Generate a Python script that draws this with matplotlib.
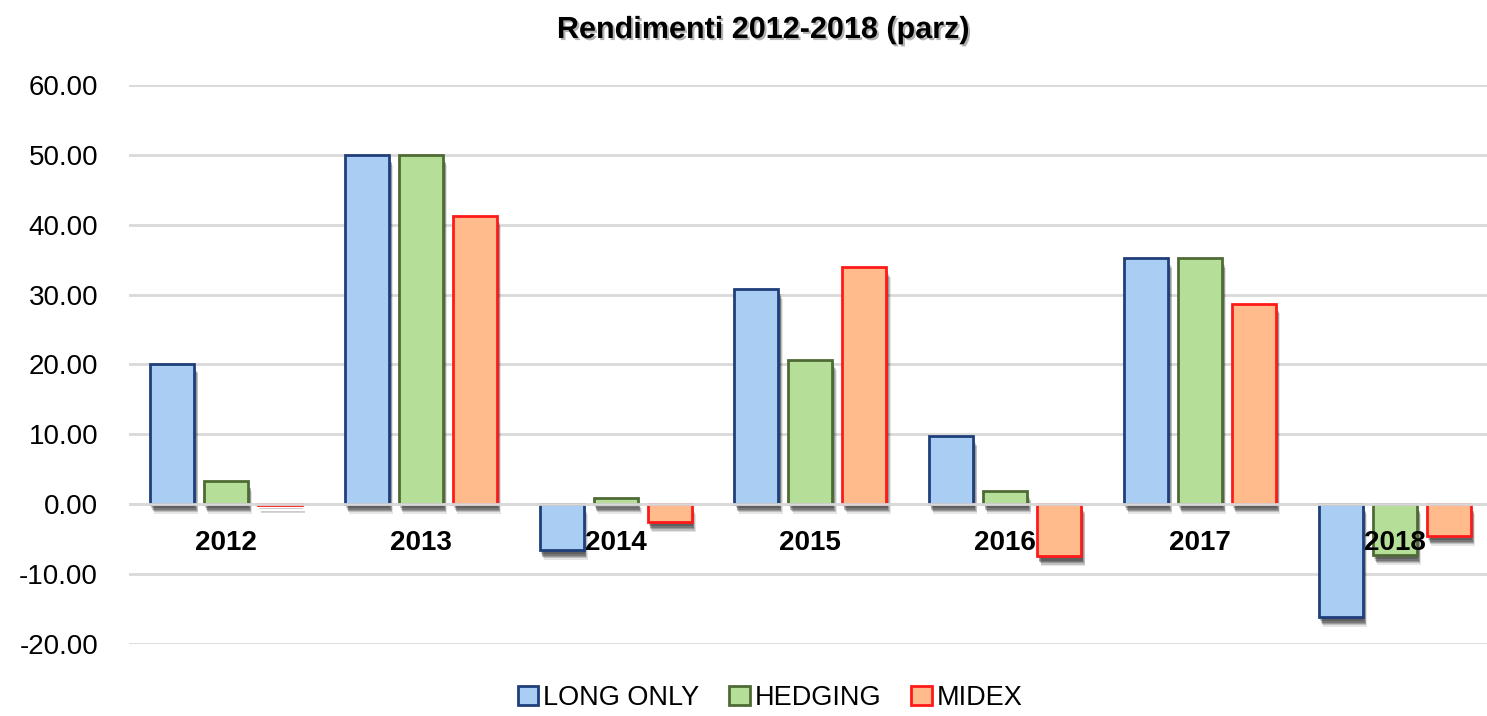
import matplotlib
matplotlib.use("Agg")
import matplotlib.pyplot as plt
import matplotlib.patheffects as pe
from matplotlib.patches import Patch
from matplotlib.transforms import offset_copy
import numpy as np

years = ["2012", "2013", "2014", "2015", "2016", "2017", "2018"]
series_names = ["LONG ONLY", "HEDGING", "MIDEX"]
long_only = [20.1, 50.0, -6.6, 30.8, 9.7, 35.2, -16.2]
hedging = [3.3, 50.0, 0.8, 20.6, 1.8, 35.2, -7.3]
midex = [-0.1, 41.2, -2.6, 33.9, -7.5, 28.7, -4.6]
title = "Rendimenti 2012-2018 (parz)"
yticks = [-20, -10, 0, 10, 20, 30, 40, 50, 60]

fills = ["#A9CDF3", "#B5DE98", "#FFBB8B"]
edges = ["#203F7A", "#4E6B35", "#FF1A1A"]

plt.rcParams["font.family"] = ["Liberation Sans", "DejaVu Sans"]

fig = plt.figure(figsize=(14.87, 7.16), dpi=100)
ax = fig.add_axes([128.6 / 1487, 1 - 643.7 / 716, 1363.6 / 1487, (643.7 - 85) / 716])

x = np.arange(len(years))
pitch = 0.277
width = 0.226
shadow = [pe.SimplePatchShadow(offset=(dx, dy), shadow_rgbFace="black", alpha=a)
          for dx, dy, a in [(3.0, -7.0, 0.10), (2.5, -6.0, 0.16), (2.0, -5.0, 0.2),
                            (1.5, -4.0, 0.22), (1.0, -3.0, 0.2)]] + [pe.Normal()]
for k, vals in enumerate([long_only, hedging, midex]):
    bars = ax.bar(x + (k - 1) * pitch, vals, width=width, color=fills[k],
                  edgecolor=edges[k], linewidth=2, zorder=3, label=series_names[k])
    for b in bars:
        b.set_path_effects(shadow)

ax.set_xlim(-0.5, len(years) - 0.5)
ax.set_ylim(-20, 60)
ax.set_yticks(yticks)
ax.set_yticklabels([f"{v:.2f}" for v in yticks])
ax.yaxis.grid(True, color="#D9D9D9", linewidth=2)
ax.set_axisbelow(True)
ax.axhline(0, color="#D9D9D9", linewidth=2, zorder=3.5)
for s in ax.spines.values():
    s.set_visible(False)
ax.tick_params(axis="y", length=0, pad=22, labelsize=20)
ax.set_xticks([])

trans = offset_copy(ax.transData, fig=fig, x=0, y=-39, units="dots")
for i, yr in enumerate(years):
    ax.text(i, 0, yr, transform=trans, ha="center", va="center", fontsize=20,
            fontweight="bold", zorder=6)

fig.text(0.513, 1 - 30 / 716, title, ha="center", va="center", fontsize=22,
         fontweight="bold",
         path_effects=[pe.SimplePatchShadow(offset=(1.5, -1.5), alpha=0.3), pe.Normal()])

handles = [Patch(facecolor=fills[k], edgecolor=edges[k], linewidth=2, label=series_names[k])
           for k in range(3)]
fig.legend(handles=handles, loc="center", bbox_to_anchor=(0.518, 1 - 698 / 716),
           ncol=3, frameon=False, fontsize=19.5, handlelength=0.75, handleheight=0.75,
           handletextpad=0.2, columnspacing=1.1, borderaxespad=0, borderpad=0)

fig.savefig("out.png", dpi=100)
